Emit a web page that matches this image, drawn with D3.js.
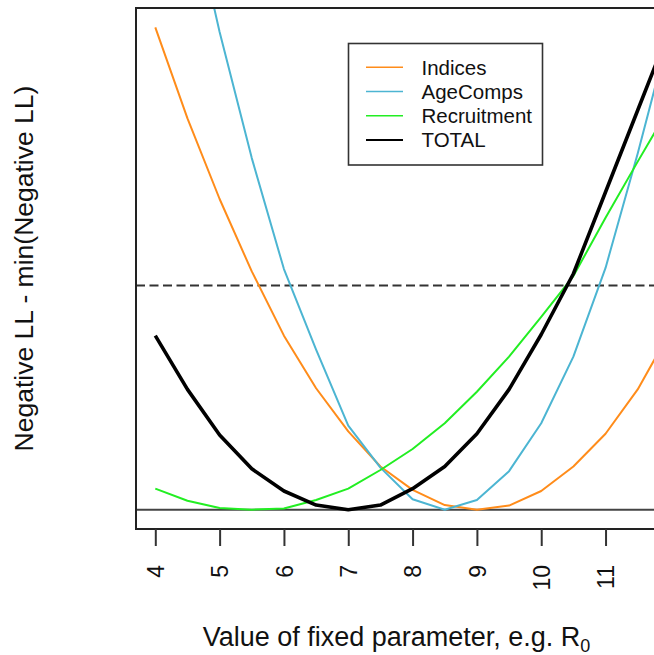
<!DOCTYPE html>
<html>
<head>
<meta charset="utf-8">
<script src="https://d3js.org/d3.v7.min.js"></script>
<style>
  body { margin: 0; background: #fff; }
  svg { display: block; font-family: "Liberation Sans", Arial, sans-serif; }
</style>
</head>
<body>
<div id="chart"></div>
<script>
// profile values
const xValues = [4, 4.5, 5, 5.5, 6, 6.5, 7, 7.5, 8, 8.5, 9, 9.5, 10, 10.5, 11, 11.5, 12];
const indices = [4.13, 3.35, 2.66, 2.04, 1.49, 1.04, 0.67, 0.37, 0.17, 0.04, 0, 0.035, 0.16, 0.37, 0.65, 1.03, 1.52];
const ageComps = [6.6, 5.3, 4.09, 3.01, 2.06, 1.37, 0.72, 0.36, 0.09, 0, 0.083, 0.33, 0.74, 1.31, 2.07, 3.05, 4.1];
const recruitment = [0.18, 0.077, 0.015, 0, 0.01, 0.083, 0.18, 0.34, 0.52, 0.74, 1.01, 1.31, 1.65, 2.0, 2.5, 2.98, 3.45];
const total = [1.49, 1.03, 0.64, 0.35, 0.16, 0.04, 0, 0.04, 0.18, 0.37, 0.65, 1.03, 1.5, 2.02, 2.72, 3.42, 4.12];

const seriesNames = ["Indices", "AgeComps", "Recruitment", "TOTAL"];
const seriesColors = ["#ff8c1a", "#4cb5d2", "#22ee22", "#000000"];
const xTicks = [4, 5, 6, 7, 8, 9, 10, 11];
const xLim = [4, 11.5];
const yLim = [0, 4.13];
const cutoff = 1.92;

const width = 654, height = 655;
const box = { left: 136, top: 8, right: 657, bottom: 529 };

const svg = d3.select("#chart").append("svg")
  .attr("width", width)
  .attr("height", height);

// R style 4% padding on both axes
const padX = (xLim[1] - xLim[0]) * 0.04;
const padY = (yLim[1] - yLim[0]) * 0.04;
const x = d3.scaleLinear().domain([xLim[0] - padX, xLim[1] + padX]).range([box.left, box.right]);
const y = d3.scaleLinear().domain([yLim[0] - padY, yLim[1] + padY]).range([box.bottom, box.top]);

svg.append("clipPath").attr("id", "plotclip")
  .append("rect")
  .attr("x", box.left).attr("y", box.top)
  .attr("width", box.right - box.left).attr("height", box.bottom - box.top);

const plot = svg.append("g").attr("clip-path", "url(#plotclip)");

// reference lines
plot.append("line")
  .attr("x1", box.left).attr("x2", box.right)
  .attr("y1", y(0)).attr("y2", y(0))
  .attr("stroke", "#444").attr("stroke-width", 2);

plot.append("line")
  .attr("x1", box.left).attr("x2", box.right)
  .attr("y1", y(cutoff)).attr("y2", y(cutoff))
  .attr("stroke", "#333").attr("stroke-width", 2)
  .attr("stroke-dasharray", "9,4.5");

const line = d3.line()
  .x((d, i) => x(xValues[i]))
  .y(d => y(d));

const allSeries = [indices, ageComps, recruitment, total];
allSeries.forEach((vals, i) => {
  plot.append("path")
    .datum(vals)
    .attr("fill", "none")
    .attr("stroke", seriesColors[i])
    .attr("stroke-width", i === 3 ? 3.6 : 2)
    .attr("stroke-linejoin", "round")
    .attr("d", line);
});

// plot frame
svg.append("rect")
  .attr("x", box.left).attr("y", box.top)
  .attr("width", box.right - box.left).attr("height", box.bottom - box.top)
  .attr("fill", "none").attr("stroke", "#222").attr("stroke-width", 2);

// x axis, labels perpendicular to the axis
const xAxis = svg.append("g")
  .attr("transform", `translate(0,${box.bottom})`)
  .call(d3.axisBottom(x).tickValues(xTicks).tickSize(17).tickSizeOuter(0).tickFormat(d3.format("d")));
xAxis.select(".domain").remove();
xAxis.selectAll(".tick line").attr("stroke", "#333").attr("stroke-width", 2);
xAxis.selectAll(".tick text")
  .attr("transform", "rotate(-90)")
  .attr("x", -36).attr("y", 0).attr("dy", "0.36em")
  .attr("text-anchor", "end")
  .style("font-size", "23px")
  .style("font-family", "'Liberation Sans', Arial, sans-serif")
  .attr("fill", "#111");

// axis titles
const xTitle = svg.append("text")
  .attr("x", (box.left + box.right) / 2)
  .attr("y", 646)
  .attr("text-anchor", "middle")
  .attr("font-size", 27)
  .attr("fill", "#111");
xTitle.append("tspan").text("Value of fixed parameter, e.g. R");
xTitle.append("tspan").attr("font-size", 18).attr("dy", 6).text("0");

svg.append("text")
  .attr("transform", `translate(33,${(box.top + box.bottom) / 2}) rotate(-90)`)
  .attr("text-anchor", "middle")
  .attr("font-size", 26.5)
  .attr("fill", "#111")
  .text("Negative LL - min(Negative LL)");

// legend
const legend = svg.append("g");
legend.append("rect")
  .attr("x", 348.5).attr("y", 43.5)
  .attr("width", 194).attr("height", 121.5)
  .attr("fill", "#fff").attr("stroke", "#333").attr("stroke-width", 1.6);

seriesNames.forEach((name, i) => {
  const ly = 67.3 + i * 24.2;
  legend.append("line")
    .attr("x1", 366).attr("x2", 403)
    .attr("y1", ly).attr("y2", ly)
    .attr("stroke", seriesColors[i])
    .attr("stroke-width", i === 3 ? 2 : 1.6);
  legend.append("text")
    .attr("x", 421.5).attr("y", ly).attr("dy", "0.36em")
    .attr("font-size", 20.5)
    .attr("fill", "#111")
    .text(name);
});
</script>
</body>
</html>
